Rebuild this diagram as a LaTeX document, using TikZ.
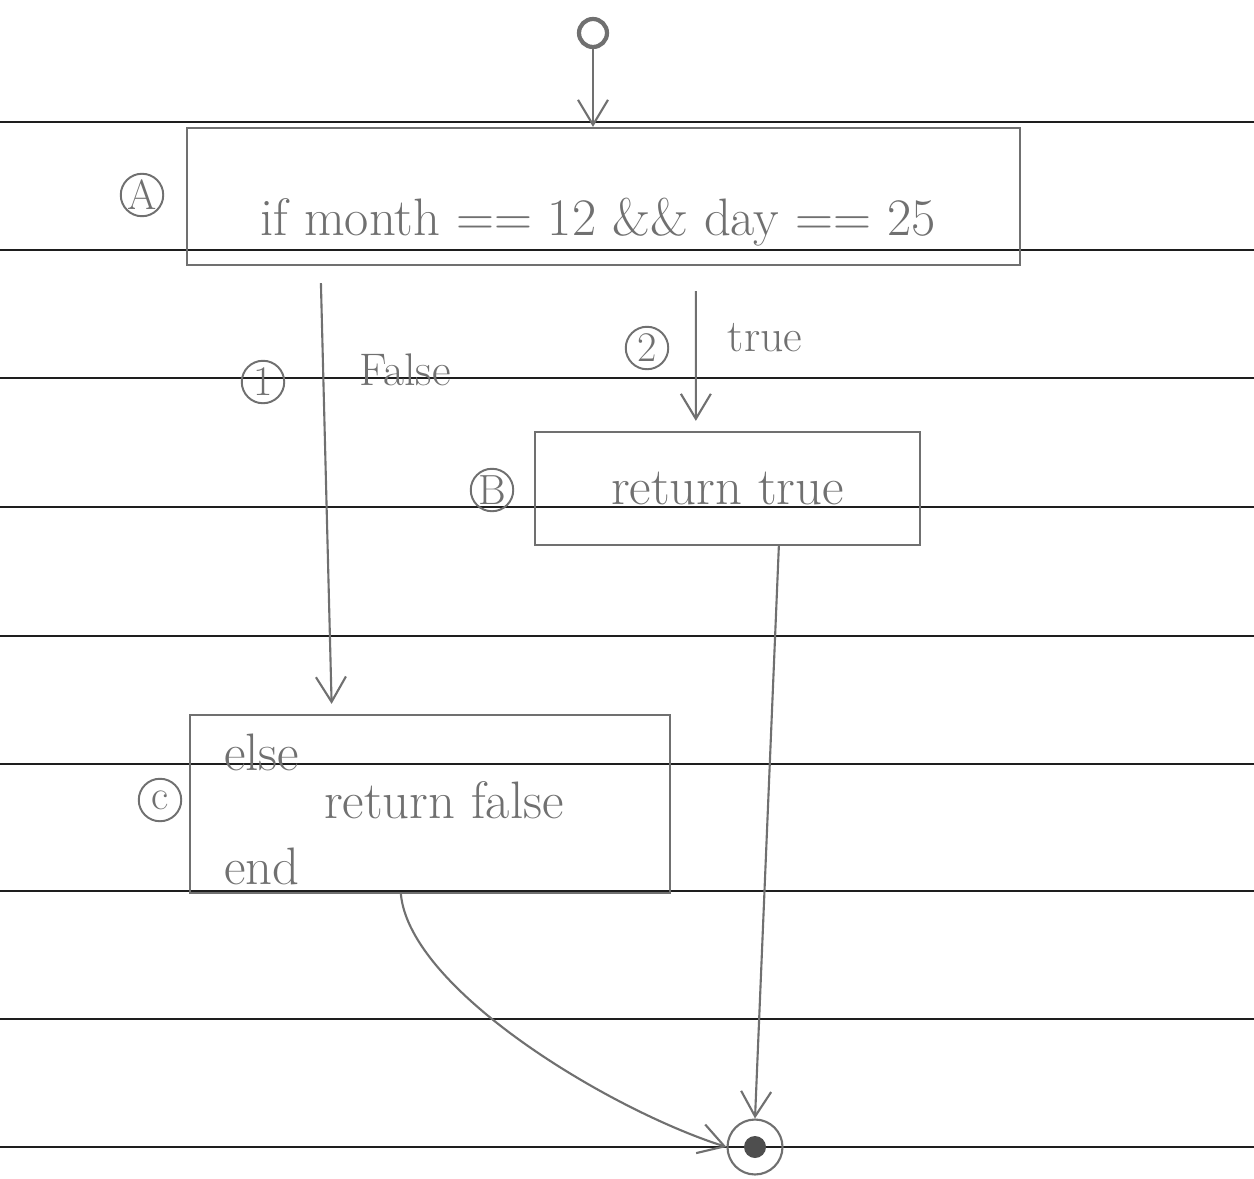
\documentclass[tikz,border=0pt]{standalone}
\usepackage{amsmath,amssymb}
\usetikzlibrary{arrows.meta, positioning, calc}
\definecolor{pencil}{HTML}{707070}
\definecolor{ruling}{HTML}{1E1E1E}

\begin{document}
\begin{tikzpicture}[x=0.02cm, y=-0.02cm,
  >={Straight Barb[length=5mm, width=6mm]},
  codebox/.style 2 args={
    draw=pencil, line width=1.3pt, minimum width=#1,
    minimum height=#2, inner sep=0pt
  },
  code/.style={font=\fontsize{30}{36}\selectfont, text=pencil},
  guard/.style={font=\fontsize{26}{30}\selectfont, text=pencil},
  tag/.style={circle, draw=pencil, line width=1.1pt, minimum size=0.85cm,
    inner sep=0pt, font=\fontsize{24}{28}\selectfont, text=pencil},
  flow/.style={->, line width=1.2pt, pencil},
]

% Page
\useasboundingbox (0,0) rectangle (1254,1179);
\fill[white] (0,0) rectangle (1254,1179);

% Ruled lines
\foreach \y in {122,250,378,507,636,764,891,1019,1147}
  \draw[ruling, line width=1.2pt] (0,\y) -- (1254,\y);

% ---- Start / end ----
\node[circle, draw=pencil, line width=2.4pt, minimum size=0.56cm, inner sep=0pt]
  (start) at (593,33) {};
\node[circle, draw=pencil, line width=1.2pt, minimum size=1.1cm, inner sep=0pt]
  (stop) at (755,1147) {};
\fill[pencil!70!black] (stop.center) circle[radius=0.22cm];

% ---- Blocks ----
% Block A: condition
\node[codebox={16.66cm}{2.74cm}] (A) at (603.5,196.5) {};
\node[code] (Atext) at (598,222) {if month == 12 \&\& day == 25};
\node[tag] (tagA) at (142,195) {A};

% Block B: true branch
\node[codebox={7.7cm}{2.26cm}, code] (B) at (727.5,488.5) {return true};
\node[tag] (tagB) at (492,490) {B};

% Block C: false branch
\node[codebox={9.6cm}{3.56cm}] (C) at (430,804) {};
\node[code, anchor=west] (Celse) at (218,752) {else};
\node[code, anchor=west] (Cret) at (318,800) {return false};
\node[code, anchor=west] (Cend) at (218,866) {end};
\node[tag] (tagC) at (160,800) {c};

% ---- Edges ----
\draw[flow] (start) -- (start |- A.north);
\draw[flow, shorten >=0.2cm]
  ([xshift=2.7cm, yshift=-0.34cm]A.south west) -- ([xshift=2.86cm]C.north west);
\draw[flow, shorten >=0.2cm]
  ([xshift=10.2cm, yshift=-0.5cm]A.south west) -- ([xshift=3.24cm]B.north west);
\draw[flow] ([xshift=4.9cm]B.south west) -- (stop.north);
\draw[flow] ([xshift=4.24cm]C.south west)
  .. controls (410,990) and (610,1110) .. (stop.west);

% ---- Edge labels ----
\node[guard] (lfalse) at (405,370) {False};
\node[tag] (tag1) at (263,382) {1};
\node[guard] (ltrue) at (765,338) {true};
\node[tag] (tag2) at (647,348) {2};

\end{tikzpicture}
\end{document}
